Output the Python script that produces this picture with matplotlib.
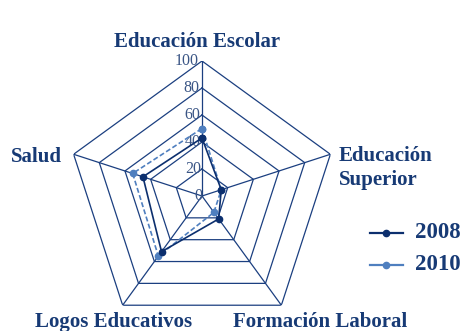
import numpy as np
import matplotlib
matplotlib.use("Agg")
from matplotlib import pyplot as plt
from matplotlib.lines import Line2D

categories = ["Educación Escolar", "Educación\nSuperior", "Formación Laboral",
              "Logos Educativos", "Salud"]
v2008 = [43, 15, 21, 51, 46]
v2010 = [50, 15, 15, 55, 54]
ticks = [0, 20, 40, 60, 80, 100]
series = ["2008", "2010"]

navy = "#0c2f6e"
light = "#4f7fbf"
grid_c = "#1b3f80"
txt_c = "#173a75"

plt.rcParams["font.family"] = ["Liberation Serif", "DejaVu Serif"]

fig = plt.figure(figsize=(4.65, 3.31), dpi=100)
W, H = 465, 331
cx, cy, R = 202, 331 - 196, 135
ax = fig.add_axes([(cx - R) / W, (cy - R) / H, 2 * R / W, 2 * R / H], projection="polar")
ax.set_theta_zero_location("N")
ax.set_theta_direction(-1)
ax.set_ylim(0, 100)
ax.grid(False)
ax.spines["polar"].set_visible(False)
ax.set_xticks([])
ax.set_yticks([])
ax.patch.set_alpha(0)

ang = np.linspace(0, 2 * np.pi, len(categories), endpoint=False)
ang_c = np.append(ang, ang[0])

for t in ticks[1:]:
    ax.plot(ang_c, [t] * len(ang_c), color=grid_c, lw=0.9, zorder=1)
for a in ang:
    ax.plot([a, a], [0, 100], color=grid_c, lw=0.9, zorder=1)

for t in ticks:
    ax.text(-0.025, t, str(t), ha="right", va="center", fontsize=11.5, color="#3a5585")

ax.plot(ang_c, v2008 + v2008[:1], color=navy, lw=1.2, marker="o", ms=4.5, zorder=4)
ax.plot(ang_c, v2010 + v2010[:1], color=light, lw=1.2, ls=(0, (3, 1.5)), marker="o", ms=4.5, zorder=3)

lab = dict(fontsize=15, fontweight="bold", color=txt_c)
fig.text(197 / W, 1 - 42 / H, categories[0], ha="center", va="center", **lab)
fig.text(339 / W, 1 - 168 / H, categories[1], ha="left", va="center", linespacing=1.3, **lab)
fig.text(320 / W, 1 - 322 / H, categories[2], ha="center", va="center", **lab)
fig.text(114 / W, 1 - 322 / H, categories[3], ha="center", va="center", **lab)
fig.text(36 / W, 1 - 157 / H, categories[4], ha="center", va="center", **lab)

# legend drawn by hand
for i, (name, col) in enumerate(zip(series, [navy, light])):
    y = 1 - (233 + i * 32) / H
    fig.add_artist(Line2D([370 / W, 403 / W], [y, y], color=col, lw=1.6))
    fig.add_artist(Line2D([386 / W], [y], color=col, marker="o", ms=4.5))
    fig.text(415 / W, y, name, ha="left", va="center", fontsize=16.5,
             fontweight="bold", color=txt_c)

fig.savefig("out.png", dpi=100)
